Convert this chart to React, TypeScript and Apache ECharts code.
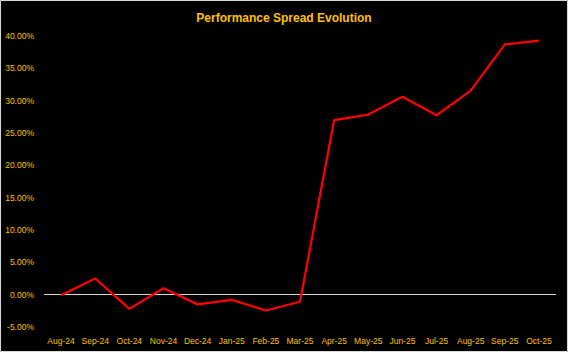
import React, { useEffect, useRef } from "react";
import * as echarts from "echarts";

const categories = [
  "Aug-24", "Sep-24", "Oct-24", "Nov-24", "Dec-24", "Jan-25", "Feb-25", "Mar-25",
  "Apr-25", "May-25", "Jun-25", "Jul-25", "Aug-25", "Sep-25", "Oct-25",
];
const spreadValues = [
  -0.1, 2.5, -2.2, 1.0, -1.5, -0.8, -2.45, -1.1,
  27.0, 27.85, 30.6, 27.75, 31.55, 38.7, 39.3,
];
const yMin = -5;
const yMax = 40;
const yInterval = 5;

export default function App() {
  const ref = useRef<HTMLDivElement>(null);
  useEffect(() => {
    document.body.style.margin = "0";
    const chart = echarts.init(ref.current!, null, { renderer: "svg" });
    const font = "'Liberation Sans', Arial, sans-serif";
    chart.setOption({
      animation: false,
      backgroundColor: "#000000",
      title: {
        text: "Performance Spread Evolution",
        left: "center",
        top: 7,
        textStyle: { color: "#FFC000", fontSize: 12, fontWeight: "bold", fontFamily: font },
      },
      graphic: [
        {
          type: "rect",
          shape: { x: 0.5, y: 0.5, width: 567, height: 351 },
          style: { fill: "none", stroke: "#d9d9d9", lineWidth: 1 },
          silent: true,
        },
      ],
      grid: { left: 44, right: 12, top: 36, bottom: 25, containLabel: false },
      xAxis: {
        type: "category",
        data: categories,
        boundaryGap: true,
        axisLine: { show: false },
        axisTick: { show: false },
        splitLine: { show: false },
        axisLabel: { color: "#FFC000", fontSize: 8.5, fontFamily: font, margin: 9, interval: 0 },
      },
      yAxis: {
        type: "value",
        min: yMin,
        max: yMax,
        interval: yInterval,
        axisLine: { show: false },
        axisTick: { show: false },
        splitLine: { show: false },
        axisLabel: {
          color: "#FFC000",
          fontSize: 8.5,
          fontFamily: font,
          margin: 10,
          formatter: (v: number) => v.toFixed(2) + "%",
        },
      },
      series: [
        {
          type: "line",
          data: spreadValues,
          symbol: "none",
          lineStyle: { color: "#FF0000", width: 2.25 },
          z: 3,
          markLine: {
            silent: true,
            symbol: ["none", "none"],
            label: { show: false },
            lineStyle: { color: "#d9d9d9", width: 1, type: "solid" },
            data: [{ yAxis: 0 }],
            z: 2,
          },
        },
      ],
    });
    return () => chart.dispose();
  }, []);
  return <div ref={ref} style={{ width: 568, height: 352 }} />;
}
